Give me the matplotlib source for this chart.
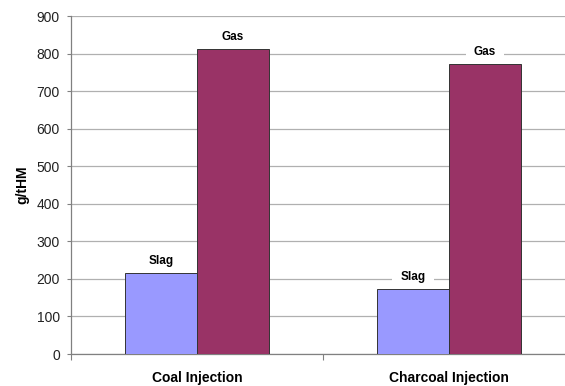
import matplotlib
matplotlib.use("Agg")
import matplotlib.pyplot as plt
import numpy as np

plt.rcParams['font.family'] = ['Liberation Sans', 'DejaVu Sans']

categories = ['Coal Injection', 'Charcoal Injection']
series = ['Slag', 'Gas']
slag = [215, 172]
gas = [812, 772]
colors = ['#9999FF', '#993366']

fig = plt.figure(figsize=(5.65, 3.86), dpi=100)
ax = fig.add_axes([71 / 565, 1 - 354 / 386, 504 / 565, 338 / 386])

x = np.arange(len(categories))
w = 0.286
for i, (vals, name, col) in enumerate(zip([slag, gas], series, colors)):
    pos = x + (i - 0.5) * w
    bars = ax.bar(pos, vals, width=w, color=col, edgecolor='#333333', linewidth=0.7, zorder=3)
    # series name above each bar, white box knocks out the gridline behind it
    for b, v in zip(bars, vals):
        ax.annotate(name, (b.get_x() + b.get_width() / 2, v), xytext=(0, 9),
                    textcoords='offset points', ha='center', va='center',
                    fontsize=8.5, fontweight='bold', zorder=2,
                    bbox=dict(boxstyle='square,pad=0.7', fc='white', ec='none'))

ax.set_ylim(0, 900)
ax.set_yticks(range(0, 901, 100))
ax.set_xlim(-0.5, 1.5)
ax.yaxis.grid(True, color='#B0B0B0', linewidth=0.9, zorder=0)
ax.set_axisbelow(True)

ax.set_xticks([-0.5, 0.5, 1.5])
ax.set_xticklabels([])
ax.set_xticks(x, minor=True)
ax.set_xticklabels(categories, minor=True, fontsize=10, fontweight='bold')
ax.tick_params(axis='x', which='minor', length=0, pad=12)
ax.tick_params(axis='x', which='major', length=4, color='#808080')
ax.tick_params(axis='y', length=3, color='#808080', labelsize=10, labelcolor='#222222', pad=5)

ax.set_ylabel('g/tHM', fontsize=10, fontweight='bold', labelpad=5)

for s in ['top', 'right']:
    ax.spines[s].set_visible(False)
for s in ['left', 'bottom']:
    ax.spines[s].set_color('#808080')
    ax.spines[s].set_linewidth(0.9)

fig.savefig('out.png', dpi=100)
